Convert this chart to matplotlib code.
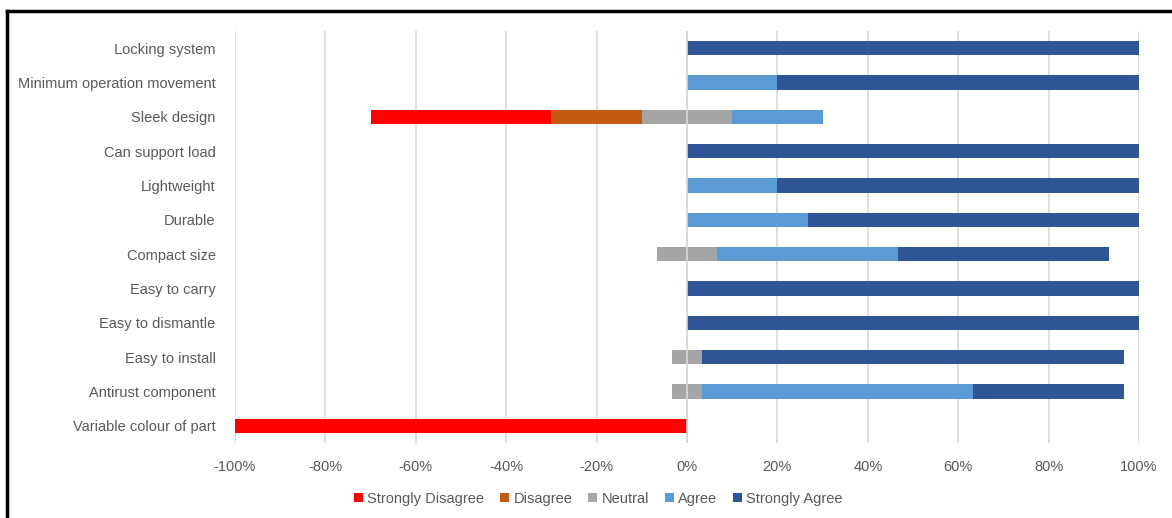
import numpy as np
import matplotlib.pyplot as plt
from matplotlib.lines import Line2D

plt.rcParams['font.family'] = ['Liberation Sans', 'DejaVu Sans']

items = ["Locking system", "Minimum operation movement", "Sleek design",
         "Can support load", "Lightweight", "Durable", "Compact size",
         "Easy to carry", "Easy to dismantle", "Easy to install",
         "Antirust component", "Variable colour of part"]

# percentages of respondents per answer
strongly_disagree = [0, 0, 40, 0, 0, 0, 0, 0, 0, 0, 0, 100]
disagree          = [0, 0, 20, 0, 0, 0, 0, 0, 0, 0, 0, 0]
neutral           = [0, 0, 20, 0, 0, 0, 13.3, 0, 0, 6.7, 6.7, 0]
agree             = [0, 20, 20, 0, 20, 26.7, 40, 0, 0, 0, 60, 0]
strongly_agree    = [100, 80, 0, 100, 80, 73.3, 46.7, 100, 100, 93.3, 33.3, 0]

labels = ["Strongly Disagree", "Disagree", "Neutral", "Agree", "Strongly Agree"]
colors = ["#FF0000", "#C55A11", "#A5A5A5", "#5B9BD5", "#2F5597"]

series = np.array([strongly_disagree, disagree, neutral, agree, strongly_agree])
start = -(series[0] + series[1] + series[2] / 2)

fig = plt.figure(figsize=(11.72, 5.18), dpi=100)
ax = fig.add_axes([0.2005, 0.1448, 0.7713, 0.7952])

y = np.arange(len(items))
left = start.copy()
for vals, lab, col in zip(series, labels, colors):
    ax.barh(y, vals, left=left, height=0.42, color=col, label=lab, zorder=2)
    left = left + vals

ax.set_xlim(-100, 100)
ax.set_ylim(len(items) - 0.5, -0.5)
ax.set_xticks(np.arange(-100, 101, 20))
ax.set_xticklabels([f"{v}%" for v in range(-100, 101, 20)])
ax.set_yticks(y)
ax.set_yticklabels(items)
ax.tick_params(axis='both', length=0, labelsize=10.5, colors="#595959")
ax.tick_params(axis='y', pad=14)
ax.tick_params(axis='x', pad=12)
ax.xaxis.grid(True, color="#D9D9D9", linewidth=1.2, zorder=0)
ax.set_axisbelow(True)
for s in ax.spines.values():
    s.set_visible(False)
ax.axvline(0, color="#D9D9D9", linewidth=1.2, zorder=3)

ax.legend(loc='upper center', bbox_to_anchor=(0.402, -0.087), ncol=5, frameon=False,
          fontsize=10.5, labelcolor="#595959", handlelength=0.6, handleheight=0.6,
          handletextpad=0.3, columnspacing=1.1)

# outer frame (top and left edges visible)
fig.add_artist(Line2D([0.006, 1.0], [0.979, 0.979], color="black", linewidth=2.5))
fig.add_artist(Line2D([0.006, 0.006], [0.0, 0.979], color="black", linewidth=2.5))

fig.savefig("out.png", dpi=100)
